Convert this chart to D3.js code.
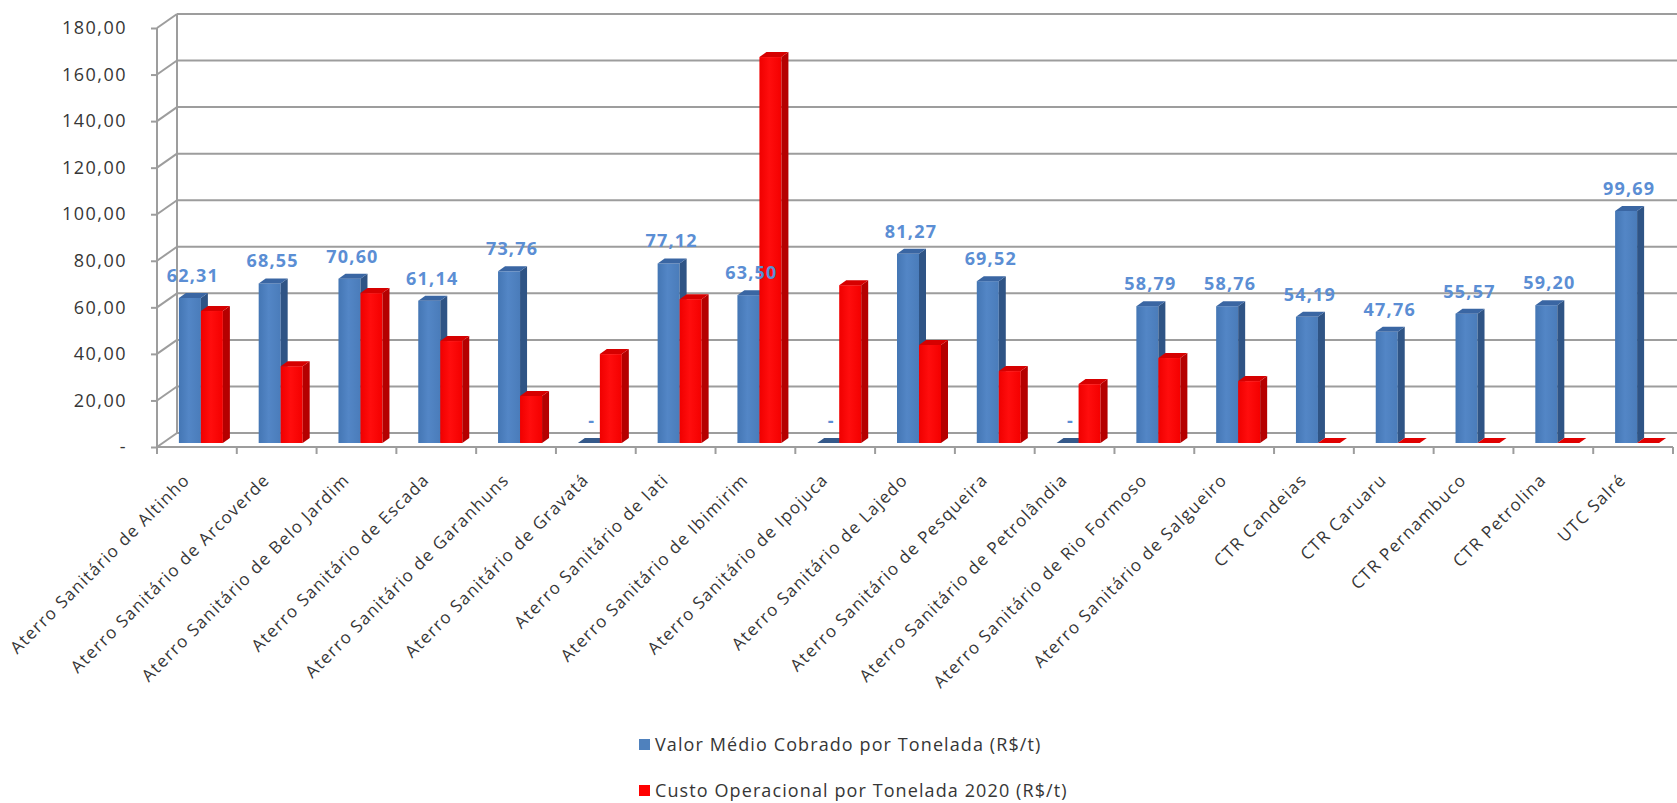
<!DOCTYPE html>
<html>
<head>
<meta charset="utf-8">
<script src="https://cdn.jsdelivr.net/npm/d3@7"></script>
<style>
  html, body { margin: 0; padding: 0; background: #fff; }
  #chart { width: 1677px; height: 803px; }
  text { font-family: "Open Sans", "DejaVu Sans", sans-serif; }
</style>
</head>
<body>
<div id="chart"></div>
<script>
// categories and values
var categories = [
  "Aterro Sanitário de Altinho",
  "Aterro Sanitário de Arcoverde",
  "Aterro Sanitário de Belo Jardim",
  "Aterro Sanitário de Escada",
  "Aterro Sanitário de Garanhuns",
  "Aterro Sanitário de Gravatá",
  "Aterro Sanitário de Iati",
  "Aterro Sanitário de Ibimirim",
  "Aterro Sanitário de Ipojuca",
  "Aterro Sanitário de Lajedo",
  "Aterro Sanitário de Pesqueira",
  "Aterro Sanitário de Petrolândia",
  "Aterro Sanitário de Rio Formoso",
  "Aterro Sanitário de Salgueiro",
  "CTR Candeias",
  "CTR Caruaru",
  "CTR Pernambuco",
  "CTR Petrolina",
  "UTC Salré"
];
var valorMedio = [62.31, 68.55, 70.60, 61.14, 73.76, 0, 77.12, 63.50, 0, 81.27,
                  69.52, 0, 58.79, 58.76, 54.19, 47.76, 55.57, 59.20, 99.69];
var custoOperacional = [56.7, 33.0, 64.4, 43.8, 20.2, 38.2, 61.8, 165.8, 67.8, 42.1,
                        30.9, 25.3, 36.5, 26.6, 0, 0, 0, 0, 0];
var yTicks = [0, 20, 40, 60, 80, 100, 120, 140, 160, 180];
var seriesNames = ["Valor Médio Cobrado por Tonelada (R$/t)",
                   "Custo Operacional por Tonelada 2020 (R$/t)"];

var width = 1677, height = 803;

var svg = d3.select("#chart").append("svg")
            .attr("width", width)
            .attr("height", height);

// brazilian number format: 62,31
var br = d3.formatLocale({decimal: ",", thousands: ".", grouping: [3], currency: ["R$", ""]});
var fmt = function(v) { return v === 0 ? "-" : br.format(".2f")(v); };

// scales
var x = d3.scaleBand().domain(categories).range([157, 1673]).paddingInner(0).paddingOuter(0);
var yFront = d3.scaleLinear().domain([0, 180]).range([447, 28]);
var yBar = d3.scaleLinear().domain([0, 180]).range([443, 24]);

// depth of the back wall and of each bar
var wall = {dx: 20, dy: -14};
var deep = {dx: 7, dy: -5};
var barW = 22;

// gradients for the bar faces
var defs = svg.append("defs");
function grad(id, stops) {
  var g = defs.append("linearGradient").attr("id", id)
              .attr("x1", "0%").attr("x2", "100%").attr("y1", "0%").attr("y2", "0%");
  stops.forEach(function(s) {
    g.append("stop").attr("offset", s[0]).attr("stop-color", s[1]);
  });
}
grad("blueFront", [["0%", "#4476b4"], ["45%", "#5386c6"], ["100%", "#4a7cba"]]);
grad("redFront", [["0%", "#f00000"], ["45%", "#ff0d0d"], ["100%", "#f40000"]]);

var gridColor = "#9d9d9d";
var textColor = "#363636";

// back wall gridlines + left wall diagonals
var grid = svg.append("g");
grid.selectAll(".grid")
    .data(yTicks)
    .enter().append("line")
    .attr("x1", x.range()[0] + wall.dx)
    .attr("x2", width)
    .attr("y1", function(d) { return yFront(d) + wall.dy; })
    .attr("y2", function(d) { return yFront(d) + wall.dy; })
    .attr("stroke", gridColor)
    .attr("stroke-width", 2);

grid.selectAll(".side")
    .data(yTicks)
    .enter().append("line")
    .attr("x1", x.range()[0])
    .attr("x2", x.range()[0] + wall.dx)
    .attr("y1", function(d) { return yFront(d); })
    .attr("y2", function(d) { return yFront(d) + wall.dy; })
    .attr("stroke", gridColor)
    .attr("stroke-width", 2);

// back wall left edge and front y axis line
grid.append("line")
    .attr("x1", x.range()[0] + wall.dx).attr("x2", x.range()[0] + wall.dx)
    .attr("y1", yFront(0) + wall.dy).attr("y2", yFront(180) + wall.dy)
    .attr("stroke", gridColor).attr("stroke-width", 2);
grid.append("line")
    .attr("x1", x.range()[0]).attr("x2", x.range()[0])
    .attr("y1", yFront(0)).attr("y2", yFront(180))
    .attr("stroke", gridColor).attr("stroke-width", 2);

// y axis
var yAxis = svg.append("g")
    .attr("transform", "translate(" + x.range()[0] + ",0)")
    .call(d3.axisLeft(yFront).tickValues(yTicks).tickFormat(fmt).tickSize(6).tickPadding(24));
yAxis.select(".domain").remove();
yAxis.selectAll(".tick line").attr("stroke", gridColor).attr("stroke-width", 2);
yAxis.selectAll(".tick text")
     .attr("fill", textColor)
     .style("font-size", "18px")
     .style("letter-spacing", "1.5px")
     .style("font-family", "'Open Sans', sans-serif");

// floor front line with ticks
svg.append("line")
   .attr("x1", x.range()[0]).attr("x2", x.range()[1])
   .attr("y1", yFront(0)).attr("y2", yFront(0))
   .attr("stroke", gridColor).attr("stroke-width", 2);

var tickXs = categories.map(function(c) { return x(c); }).concat([x.range()[1]]);
svg.selectAll(".xtick")
   .data(tickXs)
   .enter().append("line")
   .attr("x1", function(d) { return d; })
   .attr("x2", function(d) { return d; })
   .attr("y1", yFront(0))
   .attr("y2", yFront(0) + 7)
   .attr("stroke", gridColor)
   .attr("stroke-width", 2);

// bars, drawn as 3D boxes
function box(g, x0, v, cls) {
  var x1 = x0 + barW;
  var yb = yBar(0), yt = yBar(v);
  var front = cls === "blue" ? "url(#blueFront)" : "url(#redFront)";
  var side = cls === "blue" ? "#2f5485" : "#b50000";
  var top = cls === "blue" ? "#3a66a3" : "#d60000";

  if (v > 0) {
    g.append("rect")
     .attr("x", x0).attr("y", yt)
     .attr("width", barW).attr("height", yb - yt)
     .attr("fill", front);
    g.append("path")
     .attr("d", d3.line()([[x1, yt], [x1 + deep.dx, yt + deep.dy], [x1 + deep.dx, yb + deep.dy], [x1, yb]]))
     .attr("fill", side);
  }
  g.append("path")
   .attr("d", d3.line()([[x0, yt], [x0 + deep.dx, yt + deep.dy], [x1 + deep.dx, yt + deep.dy], [x1, yt]]))
   .attr("fill", v > 0 ? top : (cls === "blue" ? "#35598a" : "#e00000"));
}

var groups = svg.selectAll(".cat")
    .data(categories)
    .enter().append("g")
    .attr("class", "cat");

groups.each(function(c, i) {
  var g = d3.select(this);
  var gc = x(c) + x.bandwidth() / 2 + 4;
  box(g, gc - barW, valorMedio[i], "blue");
  box(g, gc, custoOperacional[i], "red");
});

// data labels over the blue series
svg.selectAll(".dlabel")
   .data(categories)
   .enter().append("text")
   .attr("class", "dlabel")
   .attr("x", function(c) { return x(c) + x.bandwidth() / 2 + 4 - barW / 2 + 3; })
   .attr("y", function(c, i) { return yBar(valorMedio[i]) - 16; })
   .attr("text-anchor", "middle")
   .attr("fill", "#5b8ed4")
   .style("font-size", "18px")
   .style("font-weight", "bold")
   .style("letter-spacing", "1.2px")
   .text(function(c, i) { return fmt(valorMedio[i]); });

// category labels rotated 45 degrees
svg.selectAll(".xlabel")
   .data(categories)
   .enter().append("text")
   .attr("class", "xlabel")
   .attr("transform", function(c) {
       return "translate(" + (x(c) + x.bandwidth() / 2 - 6) + "," + 481 + ") rotate(-45)";
   })
   .attr("text-anchor", "end")
   .attr("fill", textColor)
   .style("font-size", "17px")
   .style("letter-spacing", "1.3px")
   .text(function(c) { return c; });

// legend
var legendColors = ["#4f81bd", "#ff0000"];
var legend = svg.selectAll(".legend")
    .data(seriesNames)
    .enter().append("g")
    .attr("class", "legend")
    .attr("transform", function(d, i) { return "translate(639," + (745 + i * 46) + ")"; });

legend.append("rect")
      .attr("x", 0).attr("y", -6)
      .attr("width", 11).attr("height", 11)
      .attr("fill", function(d, i) { return legendColors[i]; });

legend.append("text")
      .attr("x", 16).attr("y", 0)
      .attr("dy", "0.35em")
      .attr("fill", textColor)
      .style("font-size", "18px")
      .style("letter-spacing", "1.1px")
      .text(function(d) { return d; });
</script>
</body>
</html>
